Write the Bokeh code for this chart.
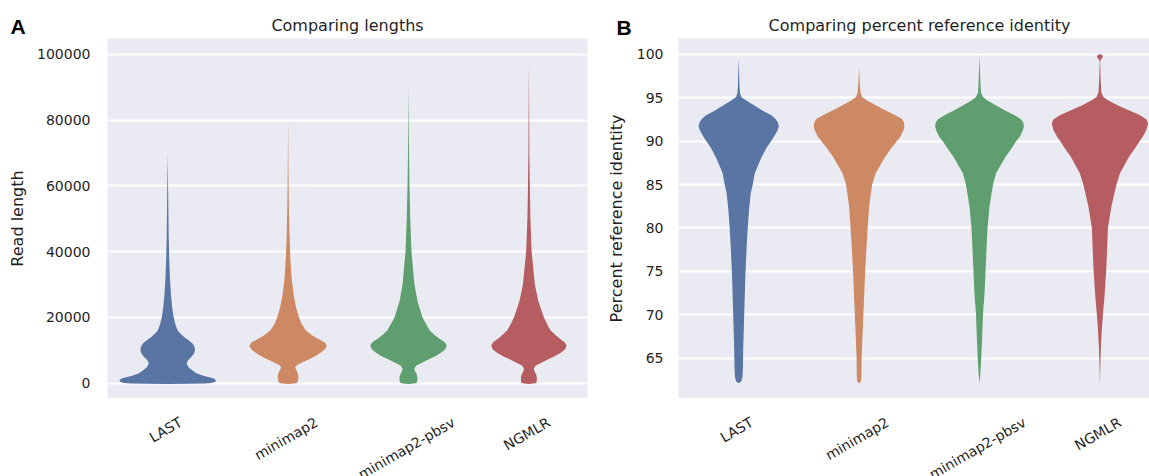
import math
from bokeh.plotting import figure
from bokeh.models import Range1d, FixedTicker, PrintfTickFormatter, Label
from bokeh.layouts import row, column
from bokeh.embed import file_html
from bokeh.resources import INLINE

# ---------------- data ----------------
categories = ["LAST", "minimap2", "minimap2-pbsv", "NGMLR"]
colors = ["#5875A4", "#CC8963", "#5F9E6E", "#B55D60"]

# Panel A: read length profiles (level, relative density in arbitrary units)
len_ticks = [0, 20000, 40000, 60000, 80000, 100000]
len_last_y = [-300, -250, -150, 0, 400, 800, 1400, 2300, 3000, 3800, 4800, 5900, 6900, 8000, 9000,
              10000, 11000, 12000, 13000, 14000, 15000, 16000, 18000, 20000, 23000, 27000, 32000,
              38000, 45000, 55000, 62000, 70000]
len_last_d = [0, 40, 75, 88, 96, 97, 93, 70, 58, 50, 42, 38, 41, 48, 53,
              55, 54, 50, 42, 33, 26, 20, 15, 12, 9, 6.5, 4.5,
              3, 2, 1.2, 0.6, 0]
len_mm2_y = [-300, -150, 0, 800, 1800, 2800, 3800, 4800, 5500, 6300, 7200, 8200, 9300, 10300, 11300,
             12300, 13300, 14500, 16000, 18000, 20000, 23000, 27000, 32000, 38000, 45000, 55000,
             65000, 80000]
len_mm2_d = [0, 12, 18, 20, 21, 20, 17, 14, 18, 29, 42, 55, 66, 74, 78,
             74, 62, 48, 36, 27, 22, 16, 11, 7, 4.5, 2.8, 1.4,
             0.7, 0]
len_pbsv_y = [-300, -150, 0, 800, 1800, 2800, 3600, 4500, 5300, 6200, 7200, 8200, 9300, 10300, 11400,
              12400, 13400, 14500, 16000, 17500, 20000, 25000, 30000, 40000, 50000, 60000, 70000,
              90000]
len_pbsv_d = [0, 11, 16, 18, 18, 16, 13, 12, 16, 27, 41, 55, 66, 74, 77,
              73, 63, 53, 43, 37, 28, 18, 12, 6, 3.5, 2, 1,
              0]
len_ngmlr_y = [-300, -150, 0, 800, 1800, 2800, 3600, 4500, 5300, 6200, 7200, 8200, 9300, 10300, 11400,
               12400, 13400, 14500, 16000, 17500, 20000, 25000, 30000, 40000, 50000, 60000, 70000,
               97000]
len_ngmlr_d = [0, 10, 15, 16, 16, 14, 11, 10, 14, 25, 39, 53, 65, 73, 76,
               72, 63, 54, 44, 38, 30, 19, 12, 5.5, 3, 1.8, 1,
               0]

# Panel B: percent reference identity profiles
pid_ticks = [65, 70, 75, 80, 85, 90, 95, 100]
pid_last_y = [62.1, 62.3, 62.8, 64, 66, 68, 70, 72, 74, 76, 78, 80, 82, 84, 85, 86.3, 87.3, 88.2,
              89.2, 90.5, 91.2, 91.7, 92.2, 92.6, 93, 93.5, 94.1, 94.7, 95.1, 95.6, 96.5, 98, 99.5]
pid_last_d = [0, 5, 7.5, 8.5, 9, 10, 11, 12, 13, 14.5, 16, 18, 20.5, 24, 28, 32, 39, 46,
              55, 70, 77, 80, 78, 73, 65, 48, 32, 15, 5, 2.5, 1.5, 0.8, 0]
pid_mm2_y = [62.1, 62.3, 62.8, 65, 70, 75, 80, 82.5, 85, 86.3, 88.2, 89.2, 90, 90.5, 91.2, 91.7,
             92.2, 92.6, 93, 93.5, 94.1, 94.7, 95.1, 95.6, 96.5, 97.5, 98.5]
pid_mm2_d = [0, 3.5, 4.5, 5, 8.5, 12, 17, 20, 26, 33, 52, 64, 75, 82, 88, 90.5,
             89, 85, 72, 54, 35, 16, 6, 3, 1.5, 0.8, 0]
pid_pbsv_y = [62.1, 63, 65, 67, 70, 71, 71.5, 73, 75, 77, 80, 82.5, 85, 86.3, 88.2, 89.2, 90, 90.5,
              91.2, 91.7, 92.2, 92.5, 93, 93.5, 94.1, 94.7, 95.1, 95.6, 96.5, 98, 100]
pid_pbsv_d = [0, 1.5, 3.5, 5, 7, 8, 9, 10.5, 12, 13.5, 16, 20, 27, 33, 52, 64, 73, 80,
              86, 88.5, 87, 83, 70, 52, 34, 16, 7, 3, 2, 1, 0]
pid_ngmlr_y = [62, 64, 66, 68, 70, 72, 75, 77, 80, 82.5, 85, 86.3, 88.2, 89.2, 90, 90.5, 91.2, 92,
               92.5, 93, 93.5, 94.1, 94.7, 95.1, 95.6, 96.5, 97.5, 98.5, 99.2, 99.5, 99.7, 99.9, 100.05]
pid_ngmlr_d = [0, 0.8, 1.8, 3.5, 6, 9, 12.5, 14, 16, 23, 33, 40, 58, 70, 79, 85, 92, 96,
               93, 80, 60, 37, 17, 7, 3, 2, 1.2, 0.8, 0.5, 3, 6, 5, 0]

length_profiles = [(len_last_y, len_last_d), (len_mm2_y, len_mm2_d),
                   (len_pbsv_y, len_pbsv_d), (len_ngmlr_y, len_ngmlr_d)]
pid_profiles = [(pid_last_y, pid_last_d), (pid_mm2_y, pid_mm2_d),
                (pid_pbsv_y, pid_pbsv_d), (pid_ngmlr_y, pid_ngmlr_d)]

# ---------------- style ----------------
BG = "#EAEAF2"
TXT = "#1f1f1f"
FONT = "DejaVu Sans"
VIOLIN_W = 0.8
TICK_FS = 14
CAT_PX = 120.4          # pixels per category slot
HEAD_H, FRAME_H, FOOT_H = 38, 360, 78

# DejaVu Sans advance widths (em) for the category label characters
CW = {"L": .557, "A": .684, "S": .635, "T": .611, "m": .974, "i": .278, "n": .634, "a": .613,
      "p": .635, "2": .636, "-": .361, "b": .635, "s": .521, "v": .592, "N": .748, "G": .775,
      "M": .863, "R": .695}


def blank(**kw):
    f = figure(output_backend="svg", toolbar_location=None, title=None,
               x_axis_location=None, y_axis_location=None,
               background_fill_color="white", border_fill_color="white",
               outline_line_color=None, **kw)
    f.grid.visible = False
    return f


def make_panel(title, ylabel, ticks, yrange, profiles, frame_w, mb_left, mb_right,
               label_standoff, axis_label_standoff, letter, letter_x, letter_y, title_cx, tick_fs):
    fig_w = mb_left + frame_w + mb_right
    xr = Range1d(-0.5, -0.5 + frame_w / CAT_PX)

    # header strip: panel letter + title (coordinates in pixels of the strip, y downwards)
    head = blank(width=fig_w, height=HEAD_H, x_range=Range1d(0, fig_w),
                 y_range=Range1d(HEAD_H, 0), min_border=0)
    head.frame_align = False
    head.add_layout(Label(x=letter_x, y=letter_y, text=letter, text_align="left",
                          text_baseline="middle", text_font="Liberation Sans",
                          text_font_style="bold", text_font_size="21px", text_color="black"))
    head.add_layout(Label(x=title_cx, y=25.3, text=title, text_align="center",
                          text_baseline="middle", text_font=FONT, text_font_size="16px",
                          text_color=TXT))

    # main plot
    p = figure(frame_width=frame_w, frame_height=FRAME_H, x_range=xr, y_range=Range1d(*yrange),
               output_backend="svg", toolbar_location=None, title=None, x_axis_location=None,
               min_border_left=mb_left, min_border_right=mb_right,
               min_border_top=0, min_border_bottom=0,
               background_fill_color=BG, border_fill_color="white", outline_line_color=None)
    p.xgrid.visible = False
    tk = FixedTicker(ticks=ticks)
    ax = p.yaxis[0]
    ax.ticker = tk
    ax.formatter = PrintfTickFormatter(format="%d")
    ax.axis_line_color = None
    ax.major_tick_line_color = None
    ax.minor_tick_line_color = None
    ax.major_tick_in = 0
    ax.major_tick_out = 0
    ax.major_label_standoff = label_standoff
    ax.major_label_text_font = FONT
    ax.major_label_text_font_size = f"{tick_fs}px"
    ax.major_label_text_color = TXT
    ax.axis_label = ylabel
    ax.axis_label_text_font = FONT
    ax.axis_label_text_font_size = "16px"
    ax.axis_label_text_font_style = "normal"
    ax.axis_label_text_color = TXT
    ax.axis_label_standoff = axis_label_standoff
    p.ygrid.ticker = tk
    p.ygrid.grid_line_color = "white"
    p.ygrid.grid_line_width = 2

    dmax = max(max(d) for _, d in profiles)
    for i, ((ys, ds), col) in enumerate(zip(profiles, colors)):
        half = [VIOLIN_W / 2 * d / dmax for d in ds]
        xs = [i + h for h in half] + [i - h for h in reversed(half)]
        yy = list(ys) + list(reversed(ys))
        p.patch(xs, yy, fill_color=col, line_color=None)

    # footer strip: rotated category labels centred under each category (shares x scale)
    foot = blank(frame_width=frame_w, frame_height=FOOT_H, x_range=xr,
                 y_range=Range1d(FOOT_H, 0), min_border_left=mb_left, min_border_right=mb_right,
                 min_border_top=0, min_border_bottom=0)
    ang = math.pi / 6
    for i, cat in enumerate(categories):
        w = sum(CW.get(c, .6) for c in cat) * TICK_FS
        bbox_h = w * math.sin(ang) + 1.164 * TICK_FS * math.cos(ang)
        foot.add_layout(Label(x=i, y=15.5 + bbox_h / 2, x_offset=-2, text=cat, angle=ang,
                              text_align="center", text_baseline="middle", text_font=FONT,
                              text_font_size=f"{TICK_FS}px", text_color=TXT))
    return column(head, p, foot)


colA = make_panel("Comparing lengths", "Read length", len_ticks, (-4718, 104870), length_profiles,
                  480, 107, 13, 17, 7, "A", 10, 25.5, 107 + 240, 14)
colB = make_panel("Comparing percent reference identity", "Percent reference identity", pid_ticks,
                  (60.33, 101.845), pid_profiles, 471, 78, 0, 15, 8, "B", 16, 26.5, 319, 14)

layout = row(colA, colB)
open("out.html", "w").write(file_html(layout, INLINE))
